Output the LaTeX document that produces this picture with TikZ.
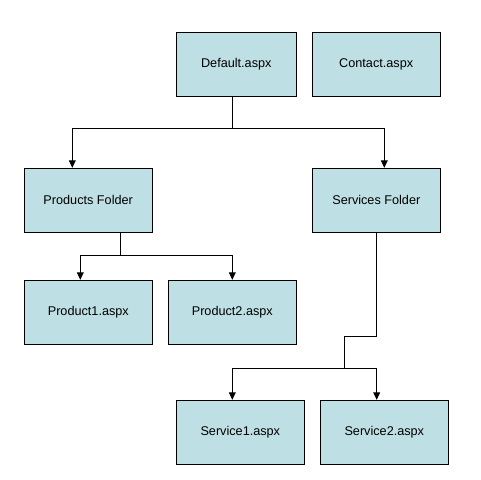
\documentclass[tikz,border=0pt]{standalone}
\usepackage{fontspec}
\setmainfont{Liberation Sans}
\usetikzlibrary{arrows.meta}
\definecolor{boxfill}{RGB}{190,224,228}
\begin{document}
\begin{tikzpicture}[x=0.75pt,y=-0.75pt,
  box/.style={draw=black, line width=0.75pt, fill=boxfill, minimum width=96pt, minimum height=48pt, inner sep=0pt, font=\fontsize{9.5}{11}\selectfont},
  conn/.style={line width=0.75pt},
  arr/.style={conn, -{Triangle[width=5pt,length=5.5pt]}}]
\useasboundingbox (0,0) rectangle (480,480);
\fill[white] (0,0) rectangle (480,480);
\node[box, minimum width=90pt] (def) at (236.3,64.2) {Default.aspx};
\node[box] (con) at (376.2,64.2) {Contact.aspx};
\node[box] (prod) at (88.2,200.3) {Products Folder};
\node[box] (serv) at (376.3,200.3) {Services Folder};
\node[box] (p1) at (88.3,312.3) {Product1.aspx};
\node[box] (p2) at (232.3,312.3) {Product2.aspx};
\node[box] (s1) at (240.3,432.3) {Service1.aspx};
\node[box] (s2) at (384.3,432.3) {Service2.aspx};
% Default -> folders
\coordinate (j1) at (232.3,128.3);
\draw[conn] (def.south -| j1) -- (j1);
\draw[arr] (j1) -| (prod.north -| 72.3,0);
\draw[arr] (j1) -| (serv.north -| 384.3,0);
% Products -> pages
\coordinate (j2) at (120.3,255.7);
\draw[conn] (prod.south -| j2) -- (j2);
\draw[arr] (j2) -| (p1.north -| 80.3,0);
\draw[arr] (j2) -| (p2.north -| 232.3,0);
% Services -> pages
\coordinate (j3) at (376.7,336);
\coordinate (j4) at (344.3,368);
\draw[conn] (serv.south -| j3) -- (j3) -| (j4);
\draw[arr] (j4) -| (s1.north -| 232.3,0);
\draw[arr] (j4) -| (s2.north -| 376.7,0);
\end{tikzpicture}
\end{document}
